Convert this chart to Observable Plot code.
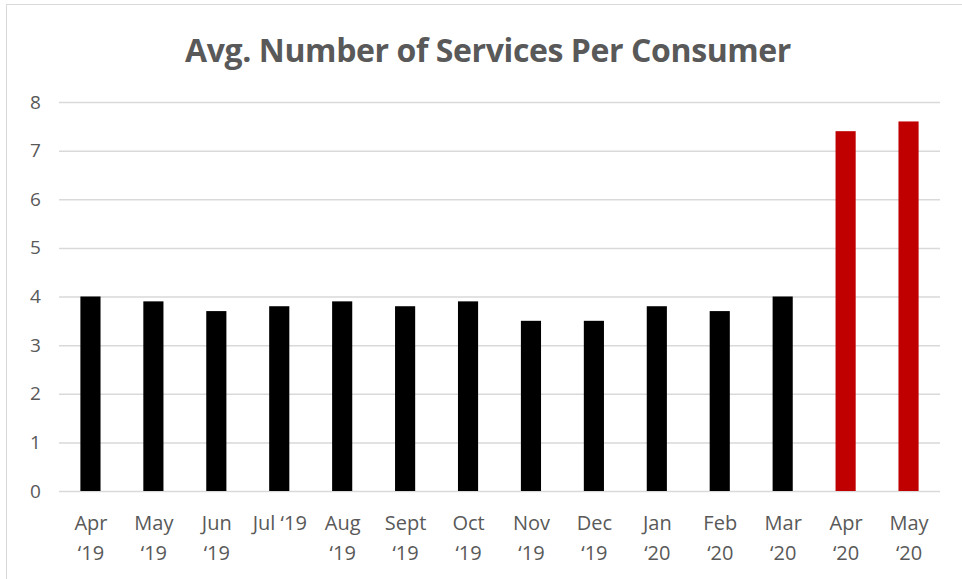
<!DOCTYPE html>
<html>
<head>
<meta charset="utf-8">
<script src="https://cdn.jsdelivr.net/npm/d3@7"></script>
<script src="https://cdn.jsdelivr.net/npm/@observablehq/plot@0.6"></script>
<style>
  html, body { margin: 0; padding: 0; background: #fff; }
  #wrap { position: relative; width: 962px; height: 579px; overflow: hidden; }
  #frame { position: absolute; left: 6px; top: 4px; width: 980px; height: 600px; border: 1.5px solid #d9d9d9; box-sizing: border-box; }
  #title { position: absolute; left: 0; top: 28px; width: 976px; text-align: center;
           font-family: "Open Sans", sans-serif; font-weight: 700; font-size: 32px; color: #595959; letter-spacing: -0.4px; }
  #chart { position: absolute; left: 0; top: 0; }
</style>
</head>
<body>
<div id="wrap">
  <div id="frame"></div>
  <div id="title">Avg. Number of Services Per Consumer</div>
  <div id="chart"></div>
</div>
<script>
const months = ["Apr\n‘19", "May\n‘19", "Jun\n‘19", "Jul ‘19", "Aug\n‘19", "Sept\n‘19", "Oct\n‘19",
                "Nov\n‘19", "Dec\n‘19", "Jan\n‘20", "Feb\n‘20", "Mar\n‘20", "Apr\n‘20", "May\n‘20"];
const values = [4.0, 3.9, 3.7, 3.8, 3.9, 3.8, 3.9, 3.5, 3.5, 3.8, 3.7, 4.0, 7.4, 7.6];
const highlight = [false, false, false, false, false, false, false, false, false, false, false, false, true, true];
const yTicks = [0, 1, 2, 3, 4, 5, 6, 7, 8];

const data = months.map((m, i) => ({month: m, value: values[i], hl: highlight[i]}));

const plot = Plot.plot({
  width: 962,
  height: 579,
  marginLeft: 59,
  marginRight: 22,
  marginTop: 102,
  marginBottom: 88,
  style: {fontFamily: "'Open Sans', sans-serif", fontSize: "19px", color: "#595959", background: "transparent"},
  x: {domain: months, paddingInner: 0.68, paddingOuter: 0.34, align: 0.5, round: false},
  y: {domain: [0, 8]},
  marks: [
    Plot.gridY(yTicks, {stroke: "#d9d9d9", strokeOpacity: 1, strokeWidth: 1.5}),
    Plot.barY(data, {x: "month", y: "value", fill: d => d.hl ? "#c00000" : "#000000"}),
    Plot.axisY({ticks: yTicks, tickSize: 0, tickPadding: 18, label: null, fill: "#595959", fontSize: 19, textAnchor: "middle", dx: -6}),
    Plot.axisX({tickSize: 0, tickPadding: 17, label: null, fill: "#595959", fontSize: 20, lineHeight: 1.5, lineAnchor: "top"})
  ]
});
document.getElementById("chart").appendChild(plot);
</script>
</body>
</html>
